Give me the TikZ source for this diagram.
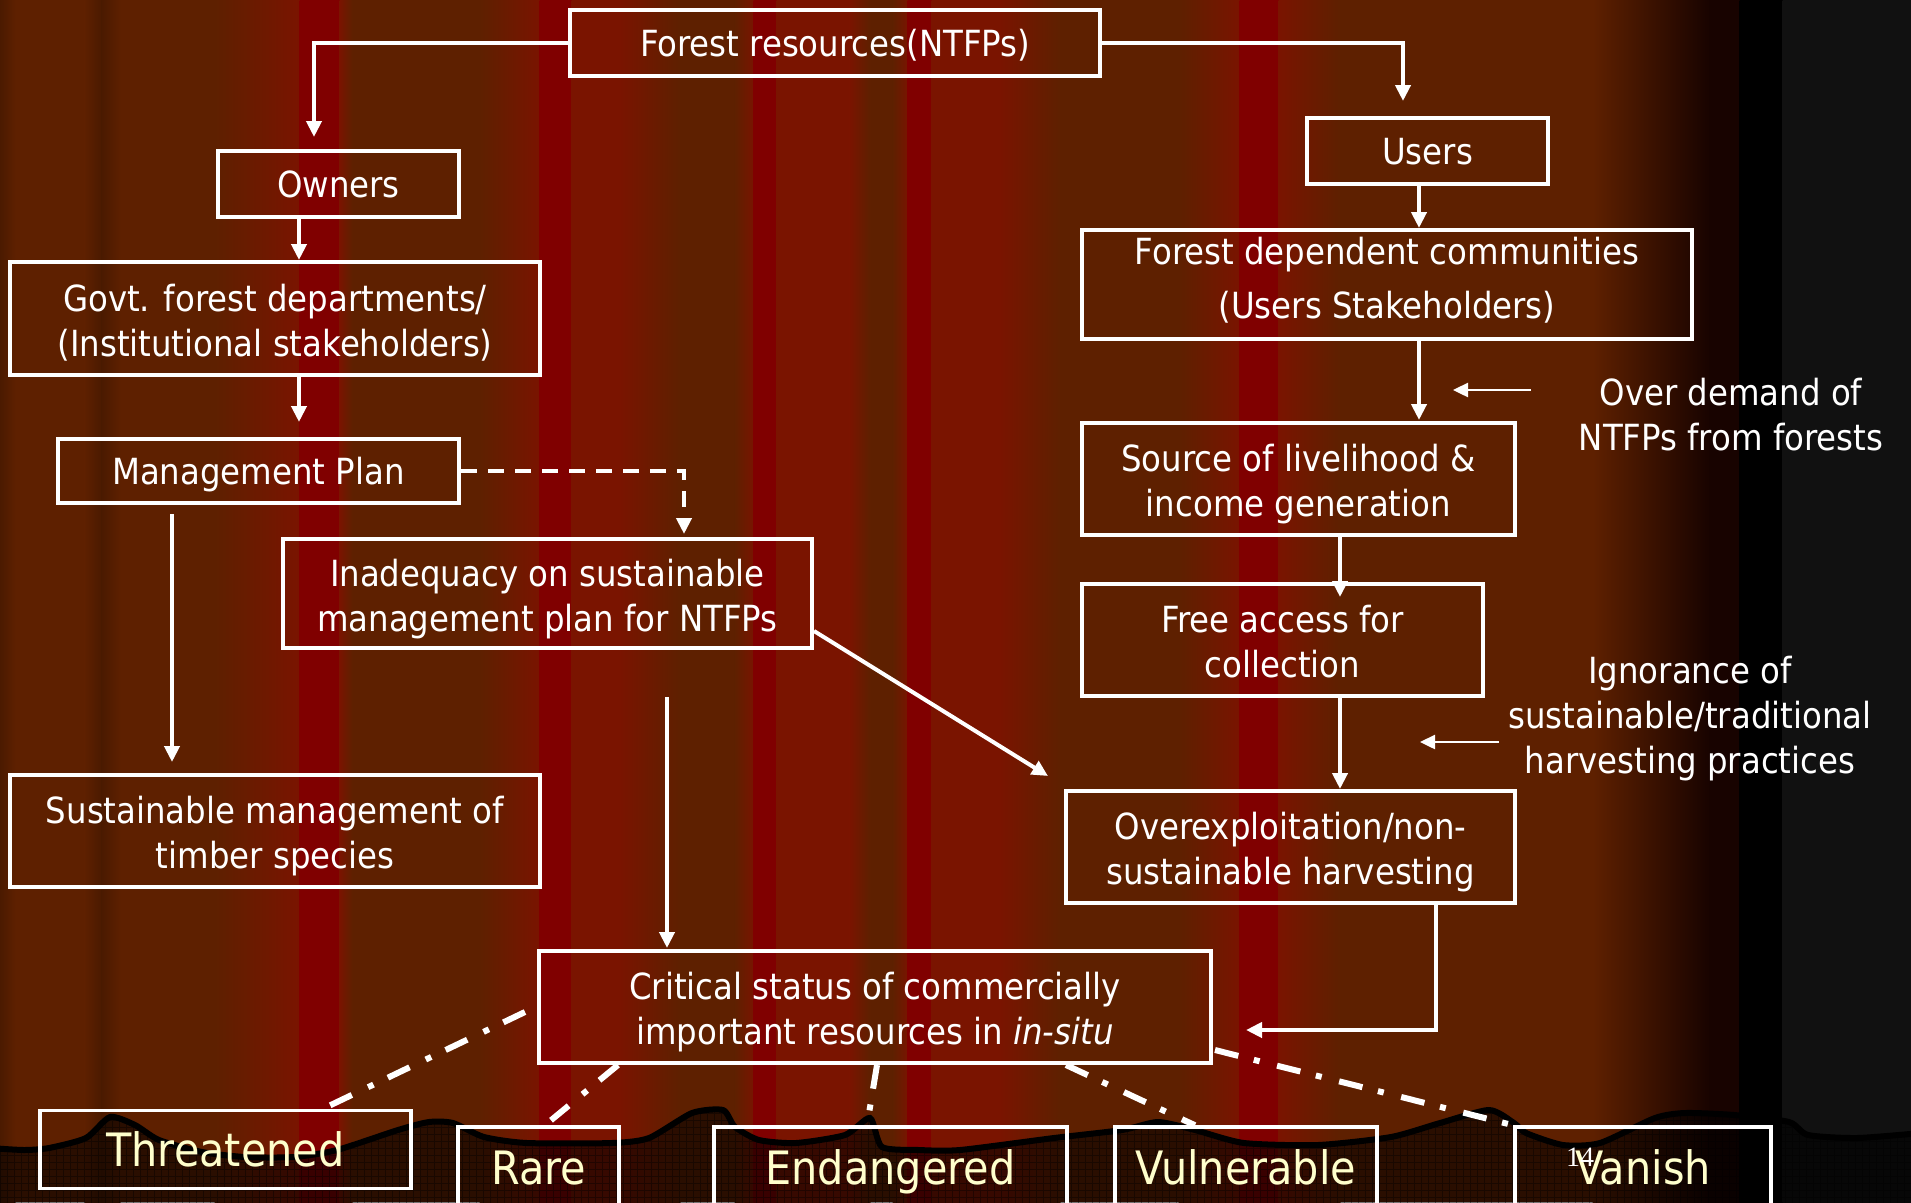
\documentclass[tikz,border=0pt]{standalone}
\usepackage{fontspec}
\setmainfont{DejaVu Sans Condensed}
\newfontfamily\numfont{Liberation Serif}
\usepackage{tikz}
\usetikzlibrary{arrows.meta}
\definecolor{bgbrown}{HTML}{5E2000}
\definecolor{bgdark}{HTML}{4A1A00}
\definecolor{bgred}{HTML}{7A1400}
\definecolor{bgcrim}{HTML}{800000}
\definecolor{bgblack}{HTML}{180300}
\definecolor{bggray}{HTML}{111111}
\definecolor{catyellow}{HTML}{FFFFCC}
\newcommand{\boxfont}{\fontsize{36}{45}\selectfont}
\newcommand{\catfont}{\fontsize{46}{50}\selectfont}
\tikzstyle{box}=[draw=white,line width=4pt,text=white,align=center,
                 inner sep=0pt,font=\boxfont,text height=27.5pt,text depth=0pt]
\tikzstyle{twoline}=[text height=75pt]
\tikzstyle{catbox}=[draw=white,line width=3.5pt,text=catyellow,inner sep=0pt,
                    font=\catfont,text height=34pt,text depth=0pt]
\tikzstyle{note}=[text=white,align=center,inner sep=0pt,font=\boxfont]
\tikzstyle{arr}=[white,line width=4pt,-{Triangle[length=16pt,width=15pt]}]
\tikzstyle{thinarr}=[white,line width=2.5pt,-{Triangle[length=15pt,width=14pt]}]
\tikzstyle{dashdot}=[white,line width=6pt,dash pattern=on 24pt off 16pt on 6pt off 18pt]

\begin{document}
\begin{tikzpicture}[x=1pt,y=-1pt]
  \useasboundingbox (0,0) rectangle (1911,1202);
  % curtain backdrop
  \fill[bgbrown] (0,0) rectangle (1911,1202);
  \foreach \xa/\xb/\ca/\cb in {0/15/bgdark/bgbrown, 85/102/bgbrown/bgdark,
      102/120/bgdark/bgbrown, 215/300/bgbrown/bgred, 300/340/bgcrim/bgcrim,
      340/352/bgred/bgbrown, 480/540/bgbrown/bgred, 540/572/bgcrim/bgcrim,
      572/620/bgred/bgred, 620/680/bgred/bgbrown, 735/754/bgbrown/bgred,
      754/777/bgcrim/bgcrim, 777/850/bgred/bgred, 850/870/bgred/bgbrown,
      893/908/bgbrown/bgred, 908/932/bgcrim/bgcrim, 932/1000/bgred/bgred,
      1000/1060/bgred/bgbrown, 1179/1240/bgbrown/bgred, 1240/1279/bgcrim/bgcrim,
      1279/1340/bgred/bgbrown, 1593/1710/bgbrown/bgblack,
      1710/1740/bgblack/bgblack, 1740/1783/black/black, 1783/1911/bggray/bggray}
    \shade[left color=\ca,right color=\cb] (\xa-0.5,0) rectangle (\xb+0.5,1202);
  % ground
  \path[save path=\groundpath] plot[smooth,tension=0.4] coordinates {
      (-10,1148) (24,1150) (49,1148) (86,1138) (110,1117) (135,1125) (159,1140)
      (202,1152) (245,1157) (294,1157) (337,1150) (398,1130) (429,1122)
      (453,1123) (484,1137) (527,1143) (612,1143) (649,1138) (692,1113)
      (723,1110) (735,1127) (759,1140) (796,1143) (845,1135) (870,1118)
      (882,1147) (919,1150) (960,1150) (1054,1138) (1122,1130) (1158,1122)
      (1195,1130) (1244,1143) (1318,1145) (1391,1137) (1440,1123) (1489,1110)
      (1514,1123) (1526,1133) (1563,1145) (1600,1143) (1655,1118) (1685,1113)
      (1734,1115) (1789,1122) (1808,1135) (1857,1138) (1921,1133)}
      -- (1921,1220) -- (-10,1220) -- cycle;
  \fill[black,fill opacity=0.55,use path=\groundpath];
  \begin{scope}
    \clip[use path=\groundpath];
    \draw[black,opacity=0.4,line width=0.8pt,step=7pt] (0,1100) grid (1911,1210);
  \end{scope}
  \draw[black,line width=6pt,use path=\groundpath];

  \node (forest) at (835,43) [box,minimum width=530pt,minimum height=66pt]
        {Forest resources(NTFPs)};
  \node (owners) at (338.5,184) [box,minimum width=241pt,minimum height=66pt] {Owners};
  \node (users) at (1427.5,151) [box,minimum width=241pt,minimum height=66pt] {Users};
  \node (govt) at (275,318.5) [box,twoline,minimum width=530pt,minimum height=113pt]
        {Govt. forest departments/\\(Institutional stakeholders)};
  \node (fdc) at (1387,284.5) [box,minimum width=610pt,minimum height=109pt,
        font=\fontsize{36}{54}\selectfont,text height=67pt]
        {Forest dependent communities\\(Users Stakeholders)};
  \node (mplan) at (258.5,471) [box,minimum width=401pt,minimum height=64pt]
        {Management Plan};
  \node (inadeq) at (547.5,593.5) [box,twoline,minimum width=529pt,minimum height=109pt]
        {Inadequacy on sustainable\\management plan for NTFPs};
  \node (source) at (1298.5,479) [box,twoline,minimum width=433pt,minimum height=112pt]
        {Source of livelihood \&\\income generation};
  \node (free) at (1282.5,640) [box,twoline,minimum width=401pt,minimum height=112pt]
        {Free access for\\collection};
  \node (timber) at (275,831) [box,twoline,minimum width=530pt,minimum height=112pt]
        {Sustainable management of\\timber species};
  \node (overex) at (1290.5,847) [box,twoline,minimum width=449pt,minimum height=112pt]
        {Overexploitation/non-\\sustainable harvesting};
  \node (critical) at (875,1007) [box,twoline,minimum width=672pt,minimum height=112pt]
        {Critical status of commercially\\important resources in \textit{in-situ}};
  \node (demand) at (1731,415) [note] {Over demand of\\NTFPs from forests};
  \node (ignor) at (1690,719) [note]
        {Ignorance of\\sustainable/traditional\\harvesting practices};

  \node (threat) at (225.5,1149.5) [catbox,minimum width=371pt,minimum height=78pt]
        {Threatened};
  \node (rare) at (538.5,1167) [catbox,minimum width=161pt,minimum height=80pt] {Rare};
  \node (endang) at (890.5,1167) [catbox,minimum width=353pt,minimum height=80pt]
        {Endangered};
  \node (vulner) at (1246,1167) [catbox,minimum width=262pt,minimum height=80pt]
        {Vulnerable};
  \node (vanish) at (1643,1167) [catbox,minimum width=256pt,minimum height=80pt]
        {Vanish};
  \node (pageno) at (1580,1157) [text=white,inner sep=0pt,
        font=\numfont\fontsize{28}{30}\selectfont] {14};

  % arrow ends and columns
  \coordinate (ownin) at (314,137);
  \coordinate (usein) at (1403,101);
  \coordinate (colA) at (299,0);
  \coordinate (mpin) at (299,422);
  \coordinate (inin) at (684,534);
  \coordinate (tbin) at (172,762);
  \coordinate (crin) at (667,948);
  \coordinate (ovin) at (1048,776);
  \coordinate (colB) at (1419,0);
  \coordinate (srcin) at (1419,420);
  \coordinate (colC) at (1340,0);
  \coordinate (colD) at (1436,0);
  \coordinate (crin2) at (1246,1030);

  \draw[arr] (forest.west) -| (ownin);
  \draw[arr] (forest.east) -| (usein);
  \draw[arr] (owners.south -| colA) -- (govt.north -| colA);
  \draw[arr] (govt.south -| mpin) -- (mpin);
  \draw[arr,dash pattern=on 16pt off 11pt] (mplan.east) -| (inin);
  \draw[arr] ([yshift=-9pt]mplan.south -| tbin) -- (tbin);
  \draw[arr] ([yshift=-47pt]inadeq.south -| crin) -- (crin);
  \draw[arr] ([yshift=-37.5pt]inadeq.east) -- (ovin);
  \draw[arr] (users.south -| colB) -- (fdc.north -| colB);
  \draw[arr] (fdc.south -| srcin) -- (srcin);
  \draw[arr] (source.south -| colC) -- ([yshift=-15pt]free.north -| colC);
  \draw[arr] (free.south -| colC) -- (overex.north -| colC);
  \draw[arr] (overex.south -| colD) |- (crin2);

  \coordinate (dm1) at (1531,390);
  \coordinate (dm2) at (1453,390);
  \coordinate (ig1) at (1499,742);
  \coordinate (ig2) at (1420,742);
  \draw[thinarr] (dm1) -- (dm2);
  \draw[thinarr] (ig1) -- (ig2);

  % status links
  \coordinate (t1) at (323,0);
  \coordinate (r1) at (618,0);
  \coordinate (r2) at (551,0);
  \coordinate (e1) at (877,0);
  \coordinate (e2) at (867,0);
  \coordinate (v1) at (1066,0);
  \coordinate (v2) at (1195,0);
  \draw[dashdot] ([xshift=-12pt,yshift=-5pt]critical.west) -- (threat.north -| t1);
  \draw[dashdot] (critical.south -| r1) -- ([yshift=5pt]rare.north -| r2);
  \draw[dashdot] (critical.south -| e1) -- (endang.north -| e2);
  \draw[dashdot] (critical.south -| v1) -- (vulner.north -| v2);
  \draw[dashdot] ([xshift=2pt,yshift=-43pt]critical.east) -- (vanish.north west);
\end{tikzpicture}
\end{document}
